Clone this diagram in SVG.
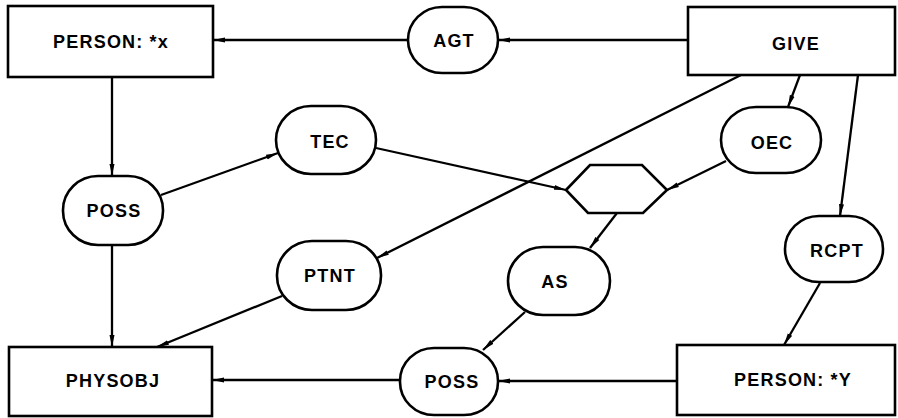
<svg xmlns="http://www.w3.org/2000/svg" width="898" height="418" viewBox="0 0 898 418">
  <style>
    .box { fill: #fff; stroke: #000; stroke-width: 2.6; }
    .rel { fill: #fff; stroke: #000; stroke-width: 2.6; }
    .lbl { font-family: "Liberation Sans", Arial, Helvetica, sans-serif; font-weight: bold; font-size: 18px; letter-spacing: 1.2px; text-anchor: middle; fill: #000; }
    .arc { fill: none; stroke: #000; stroke-width: 2.3; marker-end: url(#head); }
  </style>
  <defs>
    <marker id="head" markerUnits="userSpaceOnUse" markerWidth="13" markerHeight="6" refX="12" refY="3" orient="auto">
      <path d="M0,0.5 L12,3 L0,5.5 z" fill="#000"/>
    </marker>
  </defs>
  <rect width="898" height="418" fill="#fff"/>

  <!-- connectors -->
  <g id="connectors">
    <path class="arc" d="M688,40 L498,40"/>
    <path class="arc" d="M408,40 L213,40"/>
    <path class="arc" d="M112,77 L112,176"/>
    <path class="arc" d="M161,195 L278,153"/>
    <path class="arc" d="M376,148 L566,190"/>
    <path class="arc" d="M800,75 L788,107"/>
    <path class="arc" d="M726,161 L667,190"/>
    <path class="arc" d="M741,75 L377,258"/>
    <path class="arc" d="M858,75 L840,216"/>
    <path class="arc" d="M820,283 L784,345"/>
    <path class="arc" d="M617,213 L590,248"/>
    <path class="arc" d="M525,312 L483,350"/>
    <path class="arc" d="M677,381 L498,381"/>
    <path class="arc" d="M400,380 L212,380"/>
    <path class="arc" d="M112,245 L112,347"/>
    <path class="arc" d="M282,296 L157,347"/>
  </g>

  <!-- concept boxes -->
  <g id="person-x">
    <rect class="box" x="8" y="6" width="205" height="71"/>
    <text class="lbl" x="111" y="48">PERSON:<tspan dx="6">*x</tspan></text>
  </g>
  <g id="give">
    <rect class="box" x="688" y="7" width="207" height="68"/>
    <text class="lbl" x="796" y="50">GIVE</text>
  </g>
  <g id="physobj">
    <rect class="box" x="9" y="347" width="203" height="69"/>
    <text class="lbl" x="113" y="387">PHYSOBJ</text>
  </g>
  <g id="person-y">
    <rect class="box" x="677" y="345" width="218" height="70"/>
    <text class="lbl" x="793" y="386">PERSON:<tspan dx="6">*Y</tspan></text>
  </g>
  <g id="situation">
    <polygon class="box" points="566,190 590,165 642,165 667,190 643,213 588,213"/>
  </g>

  <!-- relation nodes -->
  <g id="agt">
    <rect class="rel" x="408" y="7" width="90" height="66" rx="34" ry="33"/>
    <text class="lbl" x="454" y="47">AGT</text>
  </g>
  <g id="tec">
    <rect class="rel" x="276" y="106" width="100" height="68" rx="35" ry="34"/>
    <text class="lbl" x="330" y="148">TEC</text>
  </g>
  <g id="oec">
    <rect class="rel" x="721" y="107" width="100" height="66" rx="35" ry="33"/>
    <text class="lbl" x="772" y="149">OEC</text>
  </g>
  <g id="poss-1">
    <rect class="rel" x="63" y="176" width="100" height="69" rx="35" ry="34"/>
    <text class="lbl" x="114" y="217">POSS</text>
  </g>
  <g id="ptnt">
    <rect class="rel" x="277" y="241" width="104" height="69" rx="35" ry="34"/>
    <text class="lbl" x="330" y="282">PTNT</text>
  </g>
  <g id="as">
    <rect class="rel" x="508" y="247" width="102" height="68" rx="35" ry="34"/>
    <text class="lbl" x="555" y="288">AS</text>
  </g>
  <g id="rcpt">
    <rect class="rel" x="785" y="216" width="98" height="66" rx="34" ry="33"/>
    <text class="lbl" x="837" y="257">RCPT</text>
  </g>
  <g id="poss-2">
    <rect class="rel" x="400" y="348" width="98" height="67" rx="34" ry="33"/>
    <text class="lbl" x="452" y="388">POSS</text>
  </g>
</svg>
